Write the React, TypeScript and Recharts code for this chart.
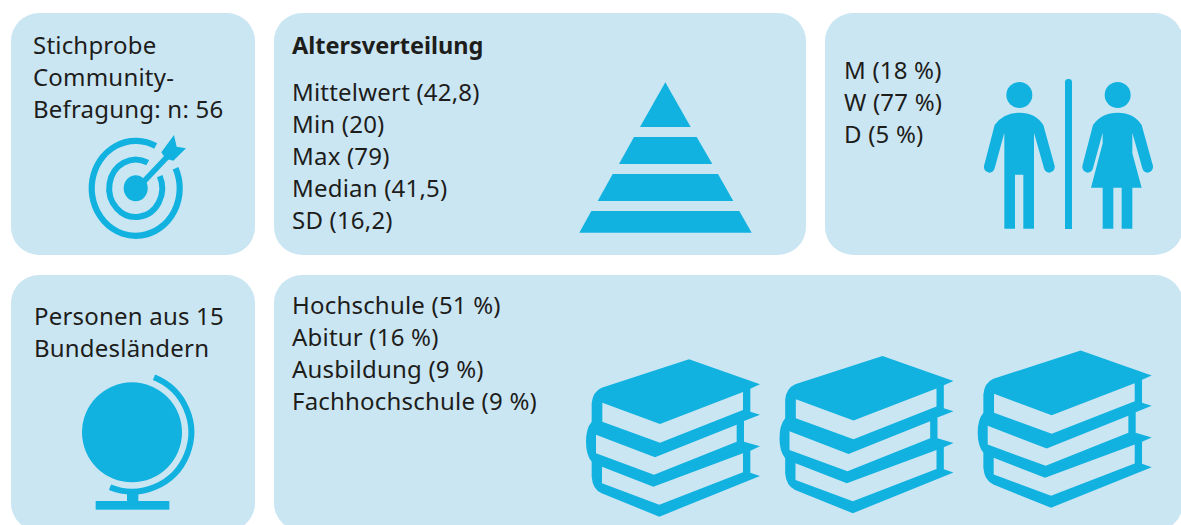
import { Surface, Layer, Rectangle, Polygon, Text } from "recharts";

const PANEL = "#cbe6f3";
const ICON = "#11b2e0";
const INK = "#1d1d1b";
const FONT = "'Noto Sans', sans-serif";

const sampleLines = ["Stichprobe", "Community-", "Befragung: n: 56"];
const regionLines = ["Personen aus 15", "Bundesländern"];
const ageTitle = "Altersverteilung";
const ageLabels = ["Mittelwert", "Min", "Max", "Median", "SD"];
const ageValues = ["42,8", "20", "79", "41,5", "16,2"];
const genderLabels = ["M", "W", "D"];
const genderShares = [18, 77, 5];
const eduLabels = ["Hochschule", "Abitur", "Ausbildung", "Fachhochschule"];
const eduShares = [51, 16, 9, 9];

const pyramidBands = [
  [{ x: 665.3, y: 82.3 }, { x: 690.7, y: 127 }, { x: 640, y: 127 }],
  [{ x: 634, y: 137 }, { x: 696.7, y: 137 }, { x: 712.3, y: 164 }, { x: 619, y: 164 }],
  [{ x: 612.7, y: 174 }, { x: 718, y: 174 }, { x: 733.3, y: 201 }, { x: 597.7, y: 201 }],
  [{ x: 591.3, y: 211 }, { x: 739.3, y: 211 }, { x: 751.7, y: 232.7 }, { x: 579.3, y: 232.7 }],
];

function Lines({ x, y, lines }: { x: number; y: number; lines: string[] }) {
  return (
    <>
      {lines.map((line, i) => (
        <Text key={line} x={x} y={y + i * 32} fontFamily={FONT} fontSize={24} letterSpacing={0.2} fill={INK}>
          {line}
        </Text>
      ))}
    </>
  );
}

// elliptical arc going the long way round, angles in degrees counted from 3 o'clock
function arc(cx: number, cy: number, rx: number, ry: number, from: number, to: number) {
  const pt = (a: number) => {
    const r = (a * Math.PI) / 180;
    return `${cx + rx * Math.cos(r)} ${cy - ry * Math.sin(r)}`;
  };
  return `M${pt(from)} A${rx} ${ry} 0 1 0 ${pt(to)}`;
}

function Target() {
  return (
    <Layer>
      <path d={arc(135.7, 188.3, 44, 47.5, 63, 25)} fill="none" stroke={ICON} strokeWidth={6.2} />
      <path d={arc(135.7, 188.3, 26.5, 28.7, 63, 25)} fill="none" stroke={ICON} strokeWidth={6} />
      <ellipse cx={135.7} cy={188.3} rx={12} ry={13} fill={ICON} />
      <Layer transform="scale(0.33333)">
        <path d="M412 553 L498 462 L510 474 L424 565 Z" fill={ICON} />
        <path d="M522 405 L530 440 L558 445 L520 482 L497 476 L484 457 Z" fill={ICON} />
      </Layer>
    </Layer>
  );
}

function Globe() {
  return (
    <Layer transform="translate(0,360) scale(0.33333)">
      <circle cx={396} cy={217} r={150} fill={ICON} />
      <path d="M462 52 A177.7 177.7 0 0 1 330 382" fill="none" stroke={ICON} strokeWidth={18} />
      <rect x={381} y={398} width={34} height={28} fill={ICON} />
      <rect x={287} y={423} width={221} height={26} fill={ICON} />
    </Layer>
  );
}

function People() {
  return (
    <Layer transform="translate(960,60) scale(0.33333)" fill={ICON}>
      <circle cx={178} cy={105} r={39} />
      <path d="M178 158 Q226 158 250 195 L284 318 Q286 334 268 338 Q256 338 252 325 L222 218 L222 506 L190 506 L190 344 L165 344 L165 506 L133 506 L133 218 L104 325 Q100 338 88 338 Q70 334 72 318 L104 195 Q130 158 178 158 Z" />
      <rect x={315} y={57} width={21} height={450} rx={10} />
      <rect x={315} y={300} width={21} height={207} />
      <circle cx={473} cy={105} r={39} />
      <path d="M473 158 Q521 158 545 195 L579 318 Q581 334 563 338 Q551 338 547 325 L517 218 L517 280 L545 383 L517 383 L517 506 L485 506 L485 383 L460 383 L460 506 L428 506 L428 383 L393 383 L428 250 L428 218 L399 325 Q395 338 383 338 Q365 334 367 318 L399 195 Q425 158 473 158 Z" />
    </Layer>
  );
}

function Books({ dx, dy }: { dx: number; dy: number }) {
  return (
    <Layer transform={`translate(${570 + dx},${340 + dy}) scale(0.33333)`}>
      <path
        fill={ICON}
        d="M357 58 L570 133 L541 146 L541 215 L570 224 L522 243 L522 305 L570 319 L541 332 L541 398 L570 408 L268 530 L95 460 Q68 448 65 410 L65 365 Q48 345 48 305 Q48 265 65 245 L65 190 Q68 155 95 143 Z"
      />
      <path fill={PANEL} d="M97 188 L270 252 L519 156 L519 210 L270 308 L97 245 Z" />
      <path fill={PANEL} d="M78 284 L255 352 L500 254 L500 305 L252 404 L78 340 Z" />
      <path fill={PANEL} d="M96 380 L250 440 L519 340 L519 397 L268 494 L96 430 Z" />
    </Layer>
  );
}

export default function App() {
  return (
    <div style={{ position: "absolute", left: 0, top: 0, width: 1181, height: 525 }}>
      <Surface width={1181} height={525} viewBox={{ x: 0, y: 0, width: 1181, height: 525 }}>
        <Rectangle x={11} y={13} width={244} height={242} radius={28} fill={PANEL} />
        <Rectangle x={274} y={13} width={532} height={242} radius={28} fill={PANEL} />
        <Rectangle x={825} y={13} width={358} height={242} radius={28} fill={PANEL} />
        <Rectangle x={11} y={275} width={244} height={256} radius={28} fill={PANEL} />
        <Rectangle x={274} y={275} width={909} height={256} radius={28} fill={PANEL} />

        <Lines x={33} y={54} lines={sampleLines} />
        <Target />

        <Text x={292} y={54} fontFamily={FONT} fontSize={23.5} fontWeight={700} fill={INK}>
          {ageTitle}
        </Text>
        <Lines x={292} y={101} lines={ageLabels.map((l, i) => `${l} (${ageValues[i]})`)} />
        {pyramidBands.map((points, i) => (
          <Polygon key={i} points={points} fill={ICON} />
        ))}

        <Lines x={844} y={79} lines={genderLabels.map((l, i) => `${l} (${genderShares[i]} %)`)} />
        <People />

        <Lines x={34} y={325} lines={regionLines} />
        <Globe />

        <Lines x={292} y={314} lines={eduLabels.map((l, i) => `${l} (${eduShares[i]} %)`)} />
        <Books dx={0} dy={0} />
        <Books dx={193.5} dy={-3.4} />
        <Books dx={391.7} dy={-8.8} />
      </Surface>
    </div>
  );
}
